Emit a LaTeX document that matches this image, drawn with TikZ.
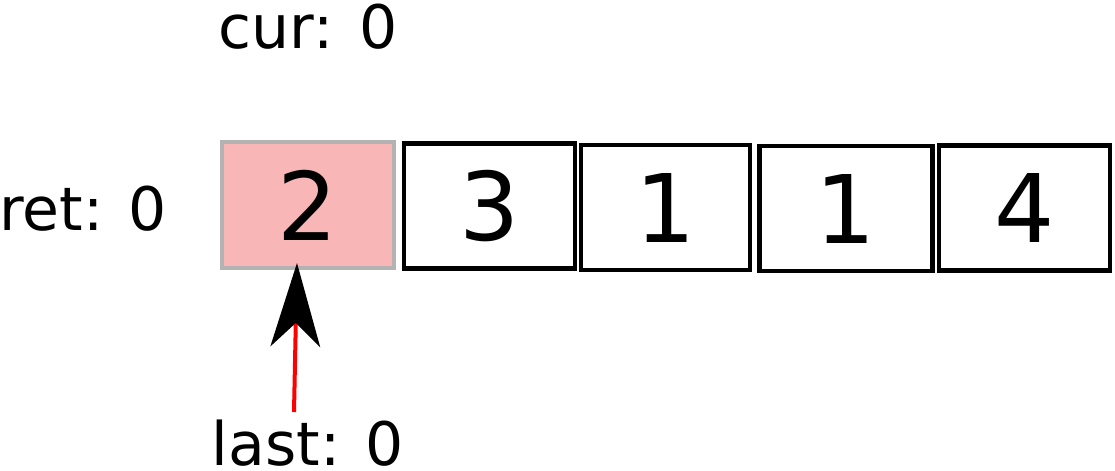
\documentclass[tikz,border=0pt]{standalone}
\usepackage{fontspec}
\setmainfont{DejaVu Sans}
\usetikzlibrary{arrows.meta}
\definecolor{cellpink}{HTML}{F9B6B6}
\definecolor{cellgray}{HTML}{B3B3B3}
\tikzset{
  cell/.style={draw=black, line width=3.4pt, inner sep=0pt, minimum width=128.5pt, minimum height=93.5pt,
    font=\fontsize{71}{71}\selectfont},
  hicell/.style={cell, line width=3pt, draw=cellgray, fill=cellpink, minimum width=129pt, minimum height=94pt},
  lbl/.style={inner sep=0pt, anchor=base, font=\fontsize{45}{45}\selectfont},
  ptr/.style={red, line width=3pt, -{Stealth[length=63pt, width=37.5pt, inset=18pt, line width=0pt, color=black]}}
}
\begin{document}
\begin{tikzpicture}[x=0.75pt, y=-0.75pt]
\useasboundingbox (0,0) rectangle (1115,471);
\node[hicell] (b1) at (308,205) {2};
\node[cell] (b2) at (489.5,206) {3};
\node[cell, minimum width=127pt] (b3) at (665.5,207.5) {1};
\node[cell, minimum width=129.5pt] (b4) at (846,208.5) {1};
\node[cell] (b5) at (1024.5,208) {4};
\node[lbl] (cur) at (308,48) {cur: 0};
\node[lbl] (ret) at (83,230) {ret: 0};
\node[lbl] (last) at (308,465) {last: 0};
\coordinate (tail) at (294,412);
\coordinate (tip) at (297,263);
\draw[ptr] (tail) -- (tip);
\end{tikzpicture}
\end{document}
